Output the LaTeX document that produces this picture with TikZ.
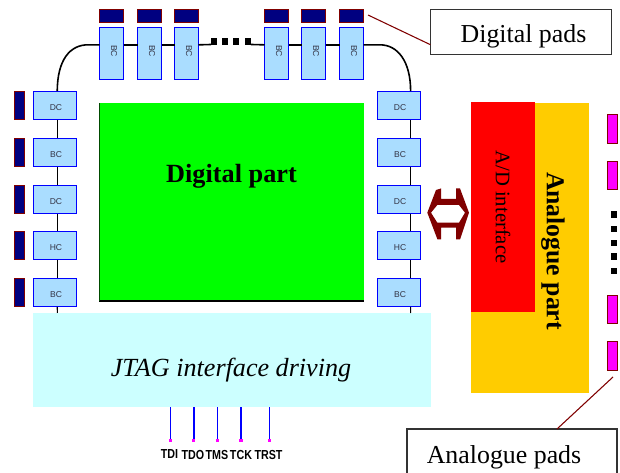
\documentclass[tikz,border=0pt]{standalone}
\usepackage{fontspec}
\setmainfont{Liberation Serif}
\newfontfamily\arialf{Liberation Sans}
\usetikzlibrary{calc}
\definecolor{bcfill}{HTML}{AADDFF}
\definecolor{padnavy}{HTML}{000080}
\definecolor{padred}{HTML}{800000}
\definecolor{padpink}{HTML}{FF00FF}
\definecolor{digreen}{HTML}{00FF00}
\definecolor{jtagcyan}{HTML}{CCFFFF}
\definecolor{analog}{HTML}{FFCC00}
\definecolor{bctext}{HTML}{333344}
\tikzset{
  x=0.75pt,y=-0.75pt,
  box/.style={rectangle,inner sep=0pt,outer sep=0pt,anchor=center},
  hbc/.style={box,draw=blue,fill=bcfill,line width=0.75pt,minimum width=32pt,minimum height=21.5pt},
  vbc/.style={box,draw=blue,fill=bcfill,line width=0.75pt,minimum width=18pt,minimum height=39pt},
  bctxt/.style={inner sep=0pt,text=bctext,font=\arialf\fontsize{6.4}{6.4}\selectfont},
  hpad/.style={box,draw=padred,fill=padnavy,line width=0.6pt,minimum width=18pt,minimum height=10pt},
  vpad/.style={box,draw=padred,fill=padnavy,line width=0.6pt,minimum width=7.5pt,minimum height=21.5pt},
  apad/.style={box,draw=padred,fill=padpink,line width=0.6pt,minimum width=8pt,minimum height=21.5pt},
  wire/.style={draw=black,line width=0.8pt},
  thickwire/.style={draw=black,line width=1.2pt},
  dotsq/.style={box,fill=black,minimum width=4.5pt,minimum height=5pt},
  calloutbox/.style={box,draw=black!80,line width=1pt,fill=white},
  callouttxt/.style={font=\fontsize{19.4}{19.4}\selectfont},
  leader/.style={draw=padred,line width=0.8pt},
  jline/.style={draw=blue,line width=0.8pt},
  jlinet/.style={draw=blue,line width=1.4pt},
  jsq/.style={box,fill=padpink,minimum width=2.4pt,minimum height=2.4pt},
  jtxt/.style={inner sep=0pt,font=\arialf\bfseries\fontsize{9.8}{9.8}\selectfont,xscale=0.82},
}
\begin{document}
\begin{tikzpicture}
\useasboundingbox (0,0) rectangle (620,473);
\fill[white] (0,0) rectangle (620,473);

% Main blocks
\node[box,fill=digreen,minimum width=198.75pt,minimum height=148.5pt] (digital) at (231.5,202) {};
\draw[line width=1.3pt,black] (digital.south west) -- (digital.south east);
\draw[line width=0.4pt,black!70!green] (digital.south west) -- (digital.north west);
\node[font=\bfseries\fontsize{19.7}{19.7}\selectfont] (digitaltxt) at (231.5,176.5) {Digital part};
\node[box,fill=analog,minimum width=88.5pt,minimum height=217.5pt] (analogue) at (530.25,248) {};
\node[box,fill=red,minimum width=48pt,minimum height=157.5pt] (adc) at (503,207) {};
\node[rotate=-90,font=\fontsize{15.5}{15.5}\selectfont] (adtxt) at (503,207) {A/D interface};
\node[rotate=-90,font=\bfseries\fontsize{19.3}{19.3}\selectfont] (antxt) at (553,251) {Analogue part};
\node[box,fill=jtagcyan,minimum width=298.5pt,minimum height=70.5pt] (jtag) at (232,360) {};
\node[font=\itshape\fontsize{19.6}{19.6}\selectfont] (jtagtxt) at (231,370) {JTAG interface driving};

% BC cells: left and right columns
\foreach \n/\yy/\t in {1/105.5/DC,2/152.5/BC,3/199.5/DC,4/245.5/HC,5/292.5/BC}{
  \node[hbc] (l\n) at (55,\yy) {};
  \fill[blue] ([yshift=0.9pt]l\n.south west) rectangle ([yshift=-0.2pt]l\n.south east);
  \node[bctxt] at (56,\yy+2.5) {\t};
  \node[vpad] (lp\n) at (19.5,\yy) {};
  \node[hbc] (r\n) at (399,\yy) {};
  \fill[blue] ([yshift=0.9pt]r\n.south west) rectangle ([yshift=-0.2pt]r\n.south east);
  \node[bctxt] at (400,\yy+2.5) {\t};
}
% BC cells: top row
\foreach \n/\xx in {1/111.5,2/149.5,3/186.5,4/276.5,5/313.5,6/351.5}{
  \node[vbc] (t\n) at (\xx,53.5) {};
  \fill[blue] ([yshift=0.7pt]t\n.south west) rectangle ([yshift=-0.2pt]t\n.south east);
  \node[bctxt,rotate=-90] at (\xx+2.5,51) {BC};
  \node[hpad] (tp\n) at (\xx,16) {};
}

% Chain wires
\foreach \a/\b in {1/2,2/3,3/4,4/5}{
  \draw[wire] ([xshift=1.7pt]l\a.south) -- ([xshift=1.7pt]l\b.north);
  \draw[wire] ([xshift=8.7pt]r\a.south) -- ([xshift=8.7pt]r\b.north);
}
\coordinate (lj) at (57.3,313);
\coordinate (rj) at (410.7,313);
\draw[wire] ([xshift=1.7pt]l5.south) -- (lj);
\draw[wire] ([xshift=8.7pt]r5.south) -- (rj);
\foreach \a/\b in {1/2,2/3,4/5,5/6}{
  \draw[thickwire] ([yshift=6.5pt]t\a.east) -- ([yshift=6.5pt]t\b.west);
}
\draw[thickwire] ([yshift=6.5pt]t1.west) -- ++(-11,0) .. controls (70,44.5) and (57.3,60) .. ([xshift=1.7pt]l1.north);
\draw[thickwire] ([yshift=6.5pt]t6.east) -- ++(16,0) .. controls (398,44.5) and (410.7,62) .. ([xshift=8.7pt]r1.north);
\coordinate (dl) at (211,44.5);
\coordinate (dr) at (251,44.5);
\draw[thickwire] ([yshift=6.5pt]t3.east) -- (dl);
\draw[thickwire] ([yshift=6.5pt]t4.west) -- (dr);
\foreach \xx/\n in {213.5/1,224.5/2,236/3,248/4}{
  \node[dotsq] (td\n) at (\xx,41.5) {};
}

% Analogue pads
\foreach \n/\yy in {1/129,2/175.5,3/309.5,4/356}{
  \node[apad] (ap\n) at (612.5,\yy) {};
}
\foreach \n/\yy in {1/214.7,2/229,3/243,4/256.5,5/271}{
  \node[box,fill=black,minimum width=4.8pt,minimum height=5pt] (ad\n) at (614,\yy) {};
}

% Double arrow
\fill[padred,even odd rule]
  (436,190) -- (441,188.5) -- (441,199) -- (456,199) -- (456,188.5) -- (460,188.5)
  -- (469,212.7) -- (460,239.5) -- (456,239.5) -- (456,227.7) -- (441,227.7) -- (441,239.5) -- (437.5,239.5) -- (427.3,212.7) -- cycle
  (437.3,205) -- (459,205) -- (465,212.7) -- (459,222.7) -- (437.3,222.7) -- (431,212.7) -- cycle;

% JTAG pins
\foreach \n/\xx/\st in {1/170.3/jline,2/193.6/jlinet,3/217.3/jline,4/241/jlinet,5/269.3/jline}{
  \node[jsq] (js\n) at (\xx,440.5) {};
  \draw[\st] (\xx,407) -- (js\n.north);
}
\node[jtxt] at (169.5,454.5) {TDI};
\node[jtxt] at (193,454.5) {TDO};
\node[jtxt] at (217,454.5) {TMS};
\node[jtxt] at (241,454.5) {TCK};
\node[jtxt] at (268.5,454.5) {TRST};

% Callouts
\node[calloutbox,minimum width=136pt,minimum height=34pt] (dlabel) at (521,32) {};
\node[callouttxt] (dtxt) at (523.5,36) {Digital pads};
\coordinate (dtip) at (368,15);
\draw[leader] (dtip) -- ([yshift=-9.5pt]dlabel.west);
\draw[draw=black!80,line width=1pt,fill=white] (617,480) -- (617,429) -- (407,429) -- (407,480);
\node[callouttxt] (alabel) at (504,457.5) {Analogue pads};
\coordinate (atip) at (613,377);
\coordinate (abox) at (557,429);
\draw[leader] (atip) -- (abox);
\end{tikzpicture}
\end{document}
